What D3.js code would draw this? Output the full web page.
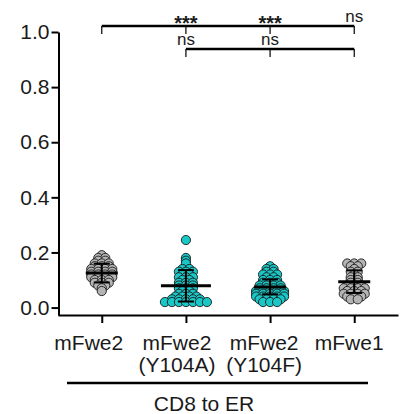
<!DOCTYPE html>
<html>
<head>
<meta charset="utf-8">
<title>CD8 to ER</title>
<style>
  body { margin: 0; background: #ffffff; }
  text { font-family: 'Liberation Sans', Arial, sans-serif; fill: #1a1a1a; }
  .y_axis text { font-size: 21px; }
  .y_axis path, .x_axis path { stroke: #000; stroke-width: 2; }
  .y_axis line, .x_axis line { stroke: #000; stroke-width: 2; }
</style>
<script src="https://d3js.org/d3.v7.min.js"></script>
</head>
<body>
<div id="chart"></div>
<script>
var categories = ["mFwe2", "mFwe2\n(Y104A)", "mFwe2\n(Y104F)", "mFwe1"];
var fills = ["#b4b4b4", "#19c7c7", "#19c7c7", "#b4b4b4"];

// values, one array per group
var mfwe2 = [0.19, 0.18, 0.18, 0.17, 0.17, 0.16, 0.16, 0.16, 0.15, 0.15, 0.15,
             0.14, 0.14, 0.14, 0.14, 0.13, 0.13, 0.13, 0.13, 0.12, 0.12, 0.12,
             0.12, 0.11, 0.11, 0.11, 0.11, 0.10, 0.10, 0.10, 0.09, 0.09, 0.09,
             0.08, 0.08, 0.07, 0.06];
var y104a = [0.245, 0.18, 0.17, 0.16, 0.14, 0.14, 0.13, 0.13, 0.13, 0.12, 0.12,
             0.11, 0.11, 0.11, 0.10, 0.10, 0.09, 0.09, 0.09, 0.08, 0.08, 0.08,
             0.07, 0.07, 0.07, 0.06, 0.06, 0.05, 0.05, 0.05, 0.04, 0.04, 0.04,
             0.04, 0.03, 0.03, 0.03, 0.03, 0.03, 0.02, 0.02, 0.02, 0.02, 0.02,
             0.02, 0.02];
var y104f = [0.15, 0.14, 0.14, 0.13, 0.13, 0.12, 0.12, 0.12, 0.11, 0.11, 0.10,
             0.10, 0.10, 0.09, 0.09, 0.09, 0.08, 0.08, 0.08, 0.08, 0.07, 0.07,
             0.07, 0.07, 0.06, 0.06, 0.06, 0.06, 0.06, 0.05, 0.05, 0.05, 0.05,
             0.05, 0.04, 0.04, 0.04, 0.04, 0.04, 0.03, 0.03, 0.03, 0.03, 0.02,
             0.02, 0.02];
var mfwe1 = [0.16, 0.16, 0.16, 0.15, 0.15, 0.14, 0.13, 0.13, 0.12, 0.11, 0.11,
             0.10, 0.10, 0.09, 0.09, 0.08, 0.08, 0.08, 0.07, 0.07, 0.07, 0.07,
             0.06, 0.06, 0.06, 0.05, 0.05, 0.05, 0.05, 0.04, 0.04, 0.04, 0.03,
             0.03];

var means = [0.125, 0.079, 0.075, 0.094];
var sds = [0.034, 0.057, 0.027, 0.041];
var mean_widths = [32, 50, 32, 32];

var y_ticks = [0.0, 0.2, 0.4, 0.6, 0.8, 1.0];

// significance brackets: level in data units, tick groups, labels
var brackets = [
  { level: 1.022, groups: [0, 1, 2, 3], labels: [[1, "***"], [2, "***"], [3, "ns"]] },
  { level: 0.938, groups: [1, 2, 3], labels: [[1, "ns"], [2, "ns"]] }
];
var group_title = "CD8 to ER";

var groups = [mfwe2, y104a, y104f, mfwe1];
// labels in the figure sit a little left of their ticks
var label_shift = [-13, -9, -6, -5];

var width = 401, height = 414;

var svg = d3.select("#chart")
            .append("svg")
            .attr("width", width)
            .attr("height", height);

var x = d3.scalePoint()
          .domain(categories)
          .range([58, 398])
          .padding(0.52);

var y = d3.scaleLinear()
          .domain([-0.027, 1.0])
          .range([315, 32]);

var y_axis = d3.axisLeft(y)
               .tickValues(y_ticks)
               .tickSize(7)
               .tickSizeOuter(0)
               .tickPadding(2)
               .tickFormat(d3.format(".1f"));

var x_axis = d3.axisBottom(x)
               .tickSize(8)
               .tickSizeOuter(0)
               .tickFormat("");

svg.append("g")
   .attr("class", "y_axis")
   .attr("transform", "translate(58.5,0)")
   .call(y_axis);

svg.append("g")
   .attr("class", "x_axis")
   .attr("transform", "translate(0," + y(-0.027) + ")")
   .call(x_axis);

// two-line category labels
categories.forEach(function(c, i) {
  var lx = x(c) + label_shift[i];
  var t = svg.append("text")
             .attr("text-anchor", "middle")
             .style("font-size", "21px")
             .attr("x", lx)
             .attr("y", 350);
  c.split("\n").forEach(function(l, j) {
    t.append("tspan")
     .attr("x", lx)
     .attr("dy", j == 0 ? 0 : 22)
     .text(l);
  });
});

// rows of equal values laid side by side, like the scatter-dot plot
function swarm(values, cx) {
  var spacing = 7;
  var rows = d3.group(values, function(v) { return Math.round(v * 100); });
  var placed = [];
  rows.forEach(function(vs) {
    vs.forEach(function(v, j) {
      placed.push({ x: cx + (j - (vs.length - 1) / 2) * spacing, y: y(v) });
    });
  });
  placed.sort(function(a, b) { return a.y - b.y; });
  return placed;
}

groups.forEach(function(vals, i) {
  var cx = x(categories[i]);
  var pts = swarm(vals, cx);
  svg.append("g")
     .selectAll("circle")
     .data(pts)
     .enter()
     .append("circle")
     .attr("cx", function(d) { return d.x; })
     .attr("cy", function(d) { return d.y; })
     .attr("r", 4.6)
     .attr("fill", fills[i])
     .attr("stroke", "#1a1a1a")
     .attr("stroke-width", 0.9);

  // mean and SD
  var g = svg.append("g").attr("stroke", "#000");
  g.append("line")
   .attr("x1", cx).attr("x2", cx)
   .attr("y1", y(means[i] - sds[i])).attr("y2", y(means[i] + sds[i]))
   .attr("stroke-width", 2);
  [means[i] - sds[i], means[i] + sds[i]].forEach(function(v) {
    g.append("line")
     .attr("x1", cx - 8).attr("x2", cx + 8)
     .attr("y1", y(v)).attr("y2", y(v))
     .attr("stroke-width", 2);
  });
  g.append("line")
   .attr("x1", cx - mean_widths[i] / 2).attr("x2", cx + mean_widths[i] / 2)
   .attr("y1", y(means[i])).attr("y2", y(means[i]))
   .attr("stroke-width", 3);
});

// significance brackets
brackets.forEach(function(b) {
  var by = y(b.level);
  var first = x(categories[b.groups[0]]);
  var last = x(categories[b.groups[b.groups.length - 1]]);
  svg.append("line")
     .attr("x1", first).attr("x2", last)
     .attr("y1", by).attr("y2", by)
     .attr("stroke", "#000")
     .attr("stroke-width", 2.5);
  b.groups.forEach(function(gi) {
    svg.append("line")
       .attr("x1", x(categories[gi])).attr("x2", x(categories[gi]))
       .attr("y1", by).attr("y2", by + 8)
       .attr("stroke", "#000")
       .attr("stroke-width", 1.2);
  });
  b.labels.forEach(function(l) {
    var star = l[1] == "***";
    svg.append("text")
       .attr("text-anchor", "middle")
       .attr("x", x(categories[l[0]]))
       .attr("y", star ? by + 4 : by - 4)
       .style("font-size", star ? "20px" : "17px")
       .style("font-weight", star ? "bold" : "normal")
       .text(l[1]);
  });
});

// group bracket under the axis labels
svg.append("line")
   .attr("x1", 67).attr("x2", 368)
   .attr("y1", 383).attr("y2", 383)
   .attr("stroke", "#000")
   .attr("stroke-width", 2.5);

svg.append("text")
   .attr("text-anchor", "middle")
   .attr("x", 204)
   .attr("y", 411)
   .style("font-size", "21px")
   .text(group_title);
</script>
</body>
</html>
